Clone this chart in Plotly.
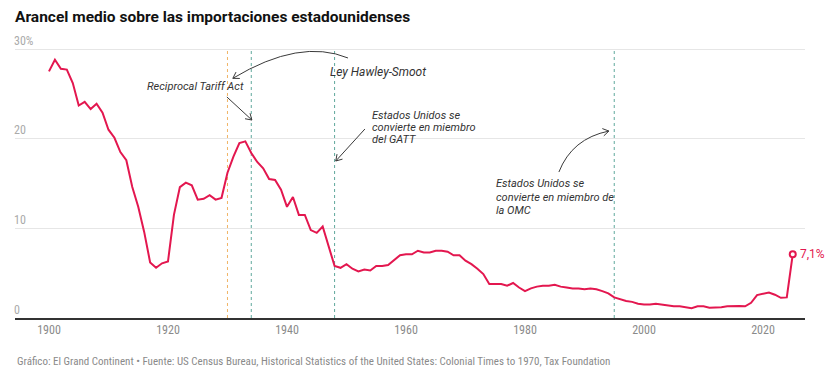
import math
import plotly.graph_objects as go

# ---------------- data ----------------
years = list(range(1900, 2026))
tariff = [
    27.5, 28.8, 27.8, 27.7, 26.2, 23.7, 24.1, 23.3, 23.9, 22.9,   # 1900-1909
    21.0, 20.1, 18.5, 17.6, 14.6, 12.4, 9.6, 6.2, 5.6, 6.1,       # 1910-1919
    6.3, 11.5, 14.6, 15.1, 14.8, 13.2, 13.3, 13.7, 13.2, 13.4,    # 1920-1929
    16.2, 18.0, 19.5, 19.7, 18.4, 17.4, 16.7, 15.5, 15.4, 14.3,   # 1930-1939
    12.4, 13.5, 11.5, 11.5, 9.8, 9.5, 10.2, 7.9, 5.8, 5.6,        # 1940-1949
    6.0, 5.5, 5.2, 5.4, 5.3, 5.8, 5.8, 5.9, 6.5, 7.0,             # 1950-1959
    7.1, 7.1, 7.5, 7.3, 7.3, 7.5, 7.5, 7.4, 7.0, 7.0,             # 1960-1969
    6.4, 6.0, 5.5, 4.9, 3.8, 3.8, 3.8, 3.6, 3.9, 3.4,             # 1970-1979
    3.0, 3.3, 3.5, 3.6, 3.6, 3.7, 3.5, 3.4, 3.3, 3.3,             # 1980-1989
    3.2, 3.3, 3.2, 3.0, 2.75, 2.3, 2.1, 1.9, 1.8, 1.6,            # 1990-1999
    1.5, 1.5, 1.6, 1.5, 1.4, 1.3, 1.3, 1.2, 1.1, 1.3,             # 2000-2009
    1.3, 1.15, 1.15, 1.2, 1.3, 1.35, 1.35, 1.3, 1.7, 2.55,        # 2010-2019
    2.7, 2.85, 2.6, 2.25, 2.3, 7.1,                               # 2020-2025
]
last_label = "7,1%"

y_tickvals = [0, 10, 20, 30]
y_ticktext = ["0", "10", "20", "30%"]
x_tickvals = [1900, 1920, 1940, 1960, 1980, 2000, 2020]

event_years = [1930, 1934, 1948, 1995]
event_colors = ["#f0b466", "#5fa89c", "#5fa89c", "#5fa89c"]

title_text = "Arancel medio sobre las importaciones estadounidenses"
source_text = ("Gráfico: El Grand Continent • Fuente: US Census Bureau, Historical Statistics "
               "of the United States: Colonial Times to 1970, Tax Foundation")

# ---------------- layout constants ----------------
W, H = 826, 377
ML, MR, MT, MB = 15, 21, 30, 59
X0, X1 = 1894.29, 2027.06
Y0, Y1 = 0, 32.12
PLOT_W = W - ML - MR
PLOT_H = H - MT - MB
PXY = PLOT_W / (X1 - X0)   # px per year
PPP = PLOT_H / (Y1 - Y0)   # px per percentage point

RED = "#e3174f"
ARROW = "#3a3a3a"
COND = "Roboto Condensed, Liberation Sans Narrow, DejaVu Sans Condensed, Roboto, sans-serif"

fig = go.Figure()
fig.add_trace(go.Scatter(
    x=years, y=tariff, mode="lines",
    line=dict(color=RED, width=2), hoverinfo="skip", showlegend=False,
))
fig.add_trace(go.Scatter(
    x=[years[-1]], y=[tariff[-1]], mode="markers",
    marker=dict(size=6, color="white", line=dict(color=RED, width=2)),
    hoverinfo="skip", showlegend=False,
))

shapes = []
for yr, col in zip(event_years, event_colors):
    shapes.append(dict(type="line", xref="x", yref="y", x0=yr, x1=yr, y0=0, y1=30,
                       line=dict(color=col, width=1, dash="dot"), layer="below"))


def vhead(ex, ey, dxp, dyp, L=7.0, ang=32):
    """Open V arrowhead at (ex, ey) in data coords; (dxp, dyp) travel direction in px (y down)."""
    n = math.hypot(dxp, dyp)
    ux, uy = dxp / n, dyp / n
    out = []
    for s in (1, -1):
        a = math.radians(ang * s)
        rx = ux * math.cos(a) - uy * math.sin(a)
        ry = ux * math.sin(a) + uy * math.cos(a)
        px, py = -L * rx, -L * ry
        out.append(dict(type="line", xref="x", yref="y", x0=ex, y0=ey,
                        x1=ex + px / PXY, y1=ey - py / PPP,
                        line=dict(color=ARROW, width=1)))
    return out


def straight_arrow(sx, sy, ex, ey):
    res = [dict(type="line", xref="x", yref="y", x0=sx, y0=sy, x1=ex, y1=ey,
                line=dict(color=ARROW, width=1))]
    res += vhead(ex, ey, (ex - sx) * PXY, -(ey - sy) * PPP)
    return res


def curved_arrow(sx, sy, cx, cy, ex, ey):
    res = [dict(type="path", xref="x", yref="y",
                path=f"M {sx},{sy} Q {cx},{cy} {ex},{ey}",
                line=dict(color=ARROW, width=1))]
    res += vhead(ex, ey, (ex - cx) * PXY, -(ey - cy) * PPP)
    return res


# Ley Hawley-Smoot (curved, pointing at 1930)
shapes += curved_arrow(1950.25, 29.0, 1942.18, 31.23, 1930.9, 26.73)
# Reciprocal Tariff Act (pointing at 1934)
shapes += straight_arrow(1929.9, 24.65, 1934.1, 22.08)
# GATT (pointing at 1948)
shapes += straight_arrow(1953.1, 21.08, 1948.2, 17.51)
# OMC (curved, pointing at 1995)
shapes += curved_arrow(1985.7, 16.28, 1987.9, 20.02, 1994.1, 20.85)

annotations = []


def txt(x, y, text, size=11.5):
    annotations.append(dict(x=x, y=y, xref="x", yref="y", text=text, showarrow=False,
                            xanchor="left", yanchor="middle",
                            font=dict(family="Roboto", size=size, color="#333333",
                                      style="italic")))


txt(1946.9, 27.45, "Ley Hawley-Smoot", 12)
txt(1916.1, 25.87, "Reciprocal Tariff Act", 11)
for yy, t in zip([22.64, 21.30, 19.93],
                 ["Estados Unidos se", "convierte en miembro", "del GATT"]):
    txt(1953.95, yy, t, 11)
for yy, t in zip([15.02, 13.42, 12.04],
                 ["Estados Unidos se", "convierte en miembro de", "la OMC"]):
    txt(1974.8, yy, t, 11)

# end label
annotations.append(dict(x=years[-1], y=tariff[-1], xref="x", yref="y", text=last_label,
                        showarrow=False, xanchor="left", yanchor="middle", xshift=5,
                        font=dict(family="Roboto", size=12, color=RED)))

# source
annotations.append(dict(x=0, y=-(361 - (H - MB)) / PLOT_H, xref="paper", yref="paper",
                        text=source_text, showarrow=False, xanchor="left",
                        yanchor="middle", font=dict(family=COND, size=11, color="#8a8a8a")))

fig.update_layout(
    width=W, height=H,
    margin=dict(l=ML, r=MR, t=MT, b=MB),
    paper_bgcolor="white", plot_bgcolor="white",
    font=dict(family="Roboto", color="#333"),
    title=dict(text=f"<b>{title_text}</b>", xref="container", yref="container",
               x=ML / W, y=1 - 17 / H, xanchor="left", yanchor="middle",
               font=dict(family="Roboto", size=15.5, color="#111")),
    shapes=shapes,
    annotations=annotations,
    showlegend=False,
    hovermode=False,
)
fig.update_xaxes(
    range=[X0, X1], tickvals=x_tickvals, showgrid=False, zeroline=False,
    showline=True, linecolor="#333", linewidth=1.5, ticks="",
    tickfont=dict(family=COND, size=12, color="#8a8a8a"),
)
fig.update_yaxes(
    range=[Y0, Y1], tickvals=y_tickvals, ticktext=y_ticktext,
    showgrid=True, gridcolor="#e6e6e6", gridwidth=1, zeroline=False,
    ticklabelposition="inside top", ticklabelstandoff=-4, ticks="",
    tickfont=dict(family=COND, size=12, color="#aaaaaa"),
)

fig.write_html(
    "out.html",
    config={"displayModeBar": False, "staticPlot": True},
    post_script="document.body.style.margin='0px';document.body.style.overflow='hidden';",
)
